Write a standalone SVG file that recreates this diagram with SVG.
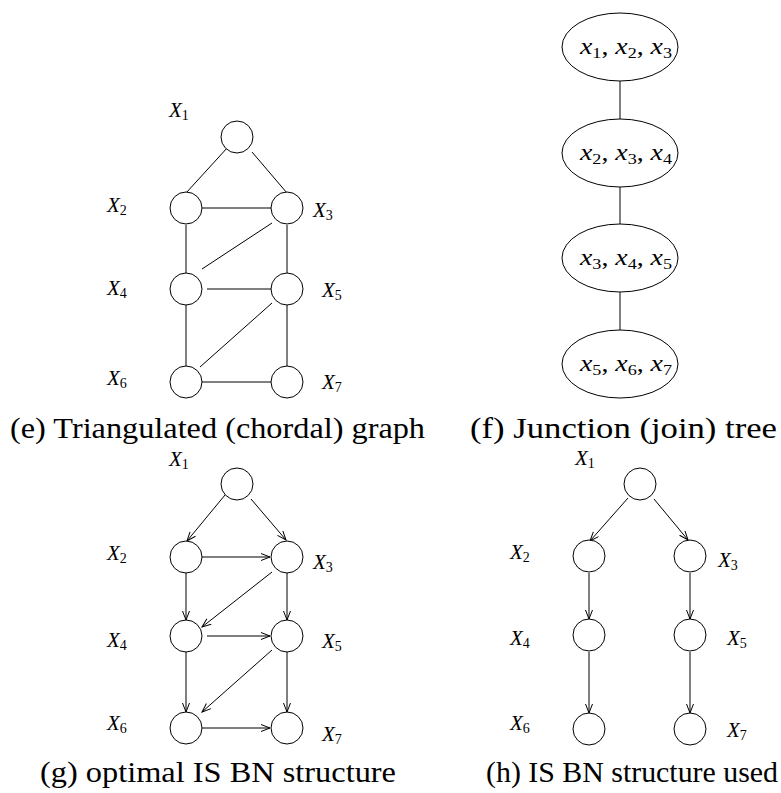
<svg xmlns="http://www.w3.org/2000/svg" width="781" height="793" viewBox="0 0 781 793" font-family="Liberation Serif, Times New Roman, DejaVu Serif, serif">
<defs>
<style>
.n{fill:#fff;stroke:#000;stroke-width:1}
.e{stroke:#000;stroke-width:1;fill:none}
.a{stroke:#000;stroke-width:1;fill:none;marker-end:url(#arr)}
text{fill:#000}
.lbl{font-size:21px}
.it{font-style:italic}
.sub{font-size:14px}
.jt{font-size:23px}
.jsub{font-size:15px}
.cap{font-size:29px}
</style>
<marker id="arr" markerWidth="12" markerHeight="10" refX="10" refY="4" orient="auto" markerUnits="userSpaceOnUse">
<path d="M1,0.5 L10,4 L1,7.5" fill="none" stroke="#000" stroke-width="1"/>
</marker>
</defs>
<rect width="781" height="793" fill="#fff"/>

<!-- (e) Triangulated graph -->
<g id="e-connectors">
<line class="e" x1="228" y1="147" x2="186" y2="193"/>
<line class="e" x1="252" y1="152" x2="287" y2="193"/>
<line class="e" x1="202" y1="208" x2="271" y2="208"/>
<line class="e" x1="186" y1="225" x2="186" y2="273"/>
<line class="e" x1="272" y1="223" x2="202" y2="269"/>
<line class="e" x1="287" y1="225" x2="287" y2="273"/>
<line class="e" x1="207" y1="289" x2="271" y2="289"/>
<line class="e" x1="186" y1="305" x2="186" y2="367"/>
<line class="e" x1="272" y1="303" x2="200" y2="367"/>
<line class="e" x1="287" y1="305" x2="287" y2="366"/>
<line class="e" x1="202" y1="382" x2="271" y2="382"/>
</g>
<g id="e-X1"><circle class="n" cx="237" cy="137" r="16"/><text class="lbl" font-family="Liberation Serif" x="169" y="117"><tspan class="it">X</tspan><tspan class="sub" dy="3">1</tspan></text></g>
<g id="e-X2"><circle class="n" cx="186" cy="208" r="16"/><text class="lbl" font-family="Liberation Serif" x="107" y="212"><tspan class="it">X</tspan><tspan class="sub" dy="3">2</tspan></text></g>
<g id="e-X3"><circle class="n" cx="287" cy="208" r="16"/><text class="lbl" font-family="Liberation Serif" x="313" y="217"><tspan class="it">X</tspan><tspan class="sub" dy="3">3</tspan></text></g>
<g id="e-X4"><circle class="n" cx="186" cy="289" r="16"/><text class="lbl" font-family="Liberation Serif" x="107" y="295"><tspan class="it">X</tspan><tspan class="sub" dy="3">4</tspan></text></g>
<g id="e-X5"><circle class="n" cx="287" cy="289" r="16"/><text class="lbl" font-family="Liberation Serif" x="322" y="297"><tspan class="it">X</tspan><tspan class="sub" dy="3">5</tspan></text></g>
<g id="e-X6"><circle class="n" cx="186" cy="382" r="16"/><text class="lbl" font-family="Liberation Serif" x="107" y="385"><tspan class="it">X</tspan><tspan class="sub" dy="3">6</tspan></text></g>
<g id="e-X7"><circle class="n" cx="287" cy="382" r="16"/><text class="lbl" font-family="Liberation Serif" x="322" y="389"><tspan class="it">X</tspan><tspan class="sub" dy="3">7</tspan></text></g>
<text class="cap" font-family="Liberation Serif" x="10" y="438" textLength="415" lengthAdjust="spacingAndGlyphs">(e) Triangulated (chordal) graph</text>

<!-- (f) Junction tree -->
<g id="f-connectors">
<line class="e" x1="620" y1="81" x2="620" y2="122"/>
<line class="e" x1="620" y1="187" x2="620" y2="225"/>
<line class="e" x1="620" y1="292" x2="620" y2="330"/>
</g>
<g id="f-C1"><ellipse class="n" cx="620" cy="47" rx="58" ry="34"/>
<text class="jt" font-family="Liberation Serif" x="580" y="54" textLength="92" lengthAdjust="spacingAndGlyphs"><tspan class="it">x</tspan><tspan class="jsub" dy="4">1</tspan><tspan dy="-4">, </tspan><tspan class="it">x</tspan><tspan class="jsub" dy="4">2</tspan><tspan dy="-4">, </tspan><tspan class="it">x</tspan><tspan class="jsub" dy="4">3</tspan></text></g>
<g id="f-C2"><ellipse class="n" cx="620" cy="153" rx="58" ry="34"/>
<text class="jt" font-family="Liberation Serif" x="580" y="160" textLength="92" lengthAdjust="spacingAndGlyphs"><tspan class="it">x</tspan><tspan class="jsub" dy="4">2</tspan><tspan dy="-4">, </tspan><tspan class="it">x</tspan><tspan class="jsub" dy="4">3</tspan><tspan dy="-4">, </tspan><tspan class="it">x</tspan><tspan class="jsub" dy="4">4</tspan></text></g>
<g id="f-C3"><ellipse class="n" cx="620" cy="258" rx="58" ry="34"/>
<text class="jt" font-family="Liberation Serif" x="580" y="265" textLength="92" lengthAdjust="spacingAndGlyphs"><tspan class="it">x</tspan><tspan class="jsub" dy="4">3</tspan><tspan dy="-4">, </tspan><tspan class="it">x</tspan><tspan class="jsub" dy="4">4</tspan><tspan dy="-4">, </tspan><tspan class="it">x</tspan><tspan class="jsub" dy="4">5</tspan></text></g>
<g id="f-C4"><ellipse class="n" cx="620" cy="364" rx="58" ry="34"/>
<text class="jt" font-family="Liberation Serif" x="580" y="371" textLength="92" lengthAdjust="spacingAndGlyphs"><tspan class="it">x</tspan><tspan class="jsub" dy="4">5</tspan><tspan dy="-4">, </tspan><tspan class="it">x</tspan><tspan class="jsub" dy="4">6</tspan><tspan dy="-4">, </tspan><tspan class="it">x</tspan><tspan class="jsub" dy="4">7</tspan></text></g>
<text class="cap" font-family="Liberation Serif" x="470" y="438" textLength="307" lengthAdjust="spacingAndGlyphs">(f) Junction (join) tree</text>

<!-- (g) optimal IS BN structure -->
<g id="g-connectors">
<line class="a" x1="225" y1="495" x2="187" y2="541"/>
<line class="a" x1="251" y1="499" x2="286" y2="540"/>
<line class="a" x1="202" y1="557" x2="270" y2="557"/>
<line class="a" x1="186" y1="572" x2="186" y2="620"/>
<line class="a" x1="272" y1="572" x2="202" y2="627"/>
<line class="a" x1="287" y1="572" x2="287" y2="620"/>
<line class="a" x1="207" y1="636" x2="270" y2="636"/>
<line class="a" x1="186" y1="652" x2="186" y2="712"/>
<line class="a" x1="272" y1="650" x2="202" y2="712"/>
<line class="a" x1="287" y1="652" x2="287" y2="712"/>
<line class="a" x1="202" y1="728" x2="270" y2="728"/>
</g>
<g id="g-X1"><circle class="n" cx="237" cy="484" r="16"/><text class="lbl" font-family="Liberation Serif" x="169" y="466"><tspan class="it">X</tspan><tspan class="sub" dy="3">1</tspan></text></g>
<g id="g-X2"><circle class="n" cx="186" cy="557" r="16"/><text class="lbl" font-family="Liberation Serif" x="107" y="560"><tspan class="it">X</tspan><tspan class="sub" dy="3">2</tspan></text></g>
<g id="g-X3"><circle class="n" cx="287" cy="557" r="16"/><text class="lbl" font-family="Liberation Serif" x="313" y="569"><tspan class="it">X</tspan><tspan class="sub" dy="3">3</tspan></text></g>
<g id="g-X4"><circle class="n" cx="186" cy="636" r="16"/><text class="lbl" font-family="Liberation Serif" x="107" y="647"><tspan class="it">X</tspan><tspan class="sub" dy="3">4</tspan></text></g>
<g id="g-X5"><circle class="n" cx="287" cy="636" r="16"/><text class="lbl" font-family="Liberation Serif" x="322" y="648"><tspan class="it">X</tspan><tspan class="sub" dy="3">5</tspan></text></g>
<g id="g-X6"><circle class="n" cx="186" cy="728" r="16"/><text class="lbl" font-family="Liberation Serif" x="107" y="730"><tspan class="it">X</tspan><tspan class="sub" dy="3">6</tspan></text></g>
<g id="g-X7"><circle class="n" cx="287" cy="728" r="16"/><text class="lbl" font-family="Liberation Serif" x="322" y="741"><tspan class="it">X</tspan><tspan class="sub" dy="3">7</tspan></text></g>
<text class="cap" font-family="Liberation Serif" x="40" y="782" textLength="356" lengthAdjust="spacingAndGlyphs">(g) optimal IS BN structure</text>

<!-- (h) IS BN structure used -->
<g id="h-connectors">
<line class="a" x1="628" y1="498" x2="590" y2="541"/>
<line class="a" x1="654" y1="499" x2="688" y2="540"/>
<line class="a" x1="589" y1="573" x2="589" y2="619"/>
<line class="a" x1="690" y1="573" x2="690" y2="619"/>
<line class="a" x1="589" y1="652" x2="589" y2="713"/>
<line class="a" x1="690" y1="652" x2="690" y2="713"/>
</g>
<g id="h-X1"><circle class="n" cx="640" cy="484" r="16"/><text class="lbl" font-family="Liberation Serif" x="575" y="465"><tspan class="it">X</tspan><tspan class="sub" dy="3">1</tspan></text></g>
<g id="h-X2"><circle class="n" cx="589" cy="556" r="16"/><text class="lbl" font-family="Liberation Serif" x="510" y="559"><tspan class="it">X</tspan><tspan class="sub" dy="3">2</tspan></text></g>
<g id="h-X3"><circle class="n" cx="690" cy="556" r="16"/><text class="lbl" font-family="Liberation Serif" x="718" y="567"><tspan class="it">X</tspan><tspan class="sub" dy="3">3</tspan></text></g>
<g id="h-X4"><circle class="n" cx="589" cy="635" r="16"/><text class="lbl" font-family="Liberation Serif" x="510" y="645"><tspan class="it">X</tspan><tspan class="sub" dy="3">4</tspan></text></g>
<g id="h-X5"><circle class="n" cx="690" cy="635" r="16"/><text class="lbl" font-family="Liberation Serif" x="727" y="645"><tspan class="it">X</tspan><tspan class="sub" dy="3">5</tspan></text></g>
<g id="h-X6"><circle class="n" cx="589" cy="729" r="16"/><text class="lbl" font-family="Liberation Serif" x="510" y="730"><tspan class="it">X</tspan><tspan class="sub" dy="3">6</tspan></text></g>
<g id="h-X7"><circle class="n" cx="690" cy="729" r="16"/><text class="lbl" font-family="Liberation Serif" x="727" y="737"><tspan class="it">X</tspan><tspan class="sub" dy="3">7</tspan></text></g>
<text class="cap" font-family="Liberation Serif" x="486" y="782" textLength="292" lengthAdjust="spacingAndGlyphs">(h) IS BN structure used</text>
</svg>
